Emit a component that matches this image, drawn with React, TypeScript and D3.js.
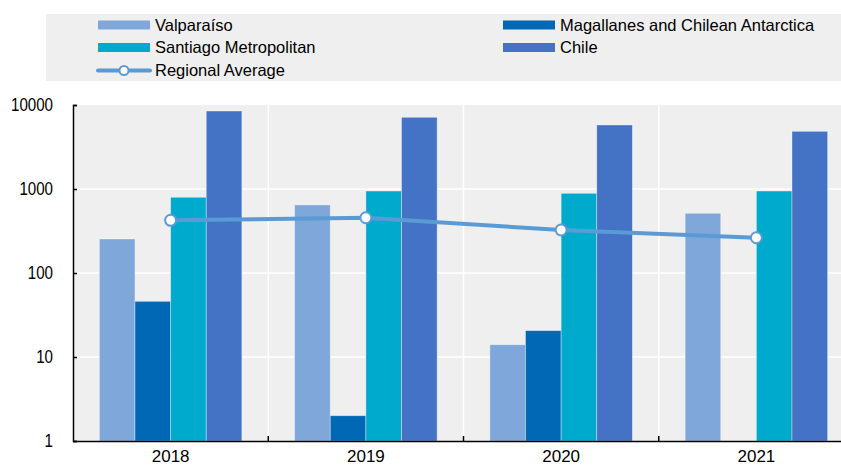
import React, { useEffect, useRef } from 'react';
import * as d3 from 'd3';

const years = ['2018', '2019', '2020', '2021'];
const seriesNames = ['Valparaíso', 'Magallanes and Chilean Antarctica', 'Santiago Metropolitan', 'Chile'];
const seriesColors = ['#7FA7D9', '#0068B4', '#00AACD', '#4472C4'];
const valparaiso = [254, 646, 14, 514];
const magallanes: (number | null)[] = [46, 2, 20.6, null];
const santiago = [797, 946, 889, 946];
const chile = [8480, 7140, 5780, 4860];
const regionalAverage = [424, 455, 325, 263];
const yTicks = [1, 10, 100, 1000, 10000];

const W = 841;
const H = 465;

const App: React.FC = () => {
  const svgRef = useRef<SVGSVGElement>(null);

  useEffect(() => {
    if (!svgRef.current) return;
    const svg = d3.select(svgRef.current);
    svg.selectAll('*').remove();

    const font = '"Liberation Sans", Arial, sans-serif';
    const plot = { left: 73, right: 854, top: 105, bottom: 441 };

    const x = d3.scaleBand<string>().domain(years).range([plot.left, plot.right]).padding(0);
    const xSub = d3.scaleBand<number>().domain([0, 1, 2, 3]).range([0, x.bandwidth()]).paddingInner(0).paddingOuter(0.74);
    const y = d3.scaleLog().domain([1, 10000]).range([plot.bottom, plot.top]);

    // Legend
    const lg = svg.append('g');
    lg.append('rect').attr('x', 46).attr('y', 14).attr('width', W - 46).attr('height', 67).attr('fill', '#EFEFEF');
    const legendItems = [
      { name: seriesNames[0], color: seriesColors[0], x: 98, y: 25, type: 'bar' },
      { name: seriesNames[2], color: seriesColors[2], x: 98, y: 47.5, type: 'bar' },
      { name: 'Regional Average', color: '#5B9BD5', x: 98, y: 70.5, type: 'line' },
      { name: seriesNames[1], color: seriesColors[1], x: 503, y: 25, type: 'bar' },
      { name: seriesNames[3], color: seriesColors[3], x: 503, y: 47.5, type: 'bar' },
    ];
    legendItems.forEach(it => {
      if (it.type === 'bar') {
        lg.append('rect').attr('x', it.x).attr('y', it.y - 4.5).attr('width', 52).attr('height', 9).attr('fill', it.color);
      } else {
        lg.append('line').attr('x1', it.x).attr('x2', it.x + 52).attr('y1', it.y).attr('y2', it.y)
          .attr('stroke', it.color).attr('stroke-width', 4).attr('stroke-linecap', 'round');
        lg.append('circle').attr('cx', it.x + 26).attr('cy', it.y).attr('r', 4.5)
          .attr('fill', '#fff').attr('stroke', it.color).attr('stroke-width', 2);
      }
      lg.append('text').attr('x', it.x + 57).attr('y', it.y).attr('dy', '0.36em')
        .attr('font-family', font).attr('font-size', 16.5).attr('fill', '#000').text(it.name);
    });

    // Plot background
    svg.append('rect').attr('x', plot.left).attr('y', plot.top)
      .attr('width', plot.right - plot.left).attr('height', plot.bottom - plot.top).attr('fill', '#EFEFEF');

    // Gridlines
    svg.append('g').selectAll('line.h').data(yTicks.slice(1, 4)).enter().append('line')
      .attr('x1', plot.left).attr('x2', plot.right)
      .attr('y1', d => y(d)).attr('y2', d => y(d))
      .attr('stroke', '#fff').attr('stroke-width', 1.5);
    svg.append('g').selectAll('line.v').data(years.slice(1)).enter().append('line')
      .attr('x1', d => x(d)!).attr('x2', d => x(d)!)
      .attr('y1', plot.top).attr('y2', plot.bottom)
      .attr('stroke', '#fff').attr('stroke-width', 1.5);

    // Bars
    const series = [valparaiso, magallanes, santiago, chile];
    series.forEach((vals, si) => {
      svg.append('g').selectAll('rect').data(years).enter()
        .filter((_, i) => vals[i] != null)
        .append('rect')
        .attr('x', d => x(d)! + xSub(si)!)
        .attr('width', xSub.bandwidth())
        .attr('y', d => y(vals[years.indexOf(d)] as number))
        .attr('height', d => plot.bottom - y(vals[years.indexOf(d)] as number))
        .attr('fill', seriesColors[si])
        .attr('stroke', 'rgba(255,255,255,0.45)')
        .attr('stroke-width', 0.8);
    });

    // Regional average line
    const cx = (d: string) => x(d)! + x.bandwidth() / 2;
    const line = d3.line<number>().x((_, i) => cx(years[i])).y(d => y(d));
    svg.append('path').datum(regionalAverage).attr('d', line)
      .attr('fill', 'none').attr('stroke', '#5B9BD5').attr('stroke-width', 4);
    svg.append('g').selectAll('circle').data(regionalAverage).enter().append('circle')
      .attr('cx', (_, i) => cx(years[i])).attr('cy', d => y(d)).attr('r', 5.5)
      .attr('fill', '#fff').attr('stroke', '#5B9BD5').attr('stroke-width', 2);

    // Axes
    const yAxis = svg.append('g').attr('transform', `translate(${plot.left},0)`)
      .call(d3.axisLeft(y).tickValues(yTicks).tickFormat(d3.format('d')).tickSize(-4).tickPadding(20));
    yAxis.select('.domain').attr('stroke', '#000').attr('stroke-width', 1.5);
    yAxis.selectAll('.tick line').attr('stroke', '#000').attr('stroke-width', 1.5);
    // condensed, tall digits as in the reference
    yAxis.selectAll<SVGTextElement, number>('text')
      .attr('font-family', font).attr('font-size', 18).attr('fill', '#000')
      .attr('textLength', d => String(d).length * 8.4)
      .attr('lengthAdjust', 'spacingAndGlyphs');

    const xAxis = svg.append('g').attr('transform', `translate(0,${plot.bottom})`)
      .call(d3.axisBottom(x).tickSize(0).tickPadding(9));
    xAxis.select('.domain').attr('stroke', '#000').attr('stroke-width', 1.5);
    xAxis.selectAll('text').attr('font-family', font).attr('font-size', 17).attr('fill', '#000');
    xAxis.selectAll('line.boundary').data(years.slice(1)).enter().append('line')
      .attr('x1', d => x(d)!).attr('x2', d => x(d)!).attr('y1', 0).attr('y2', -5)
      .attr('stroke', '#000').attr('stroke-width', 1.5);
  }, []);

  return (
    <svg
      ref={svgRef}
      width={W}
      height={H}
      style={{ position: 'absolute', left: 0, top: 0, background: '#fff', overflow: 'hidden' }}
    />
  );
};

export default App;
